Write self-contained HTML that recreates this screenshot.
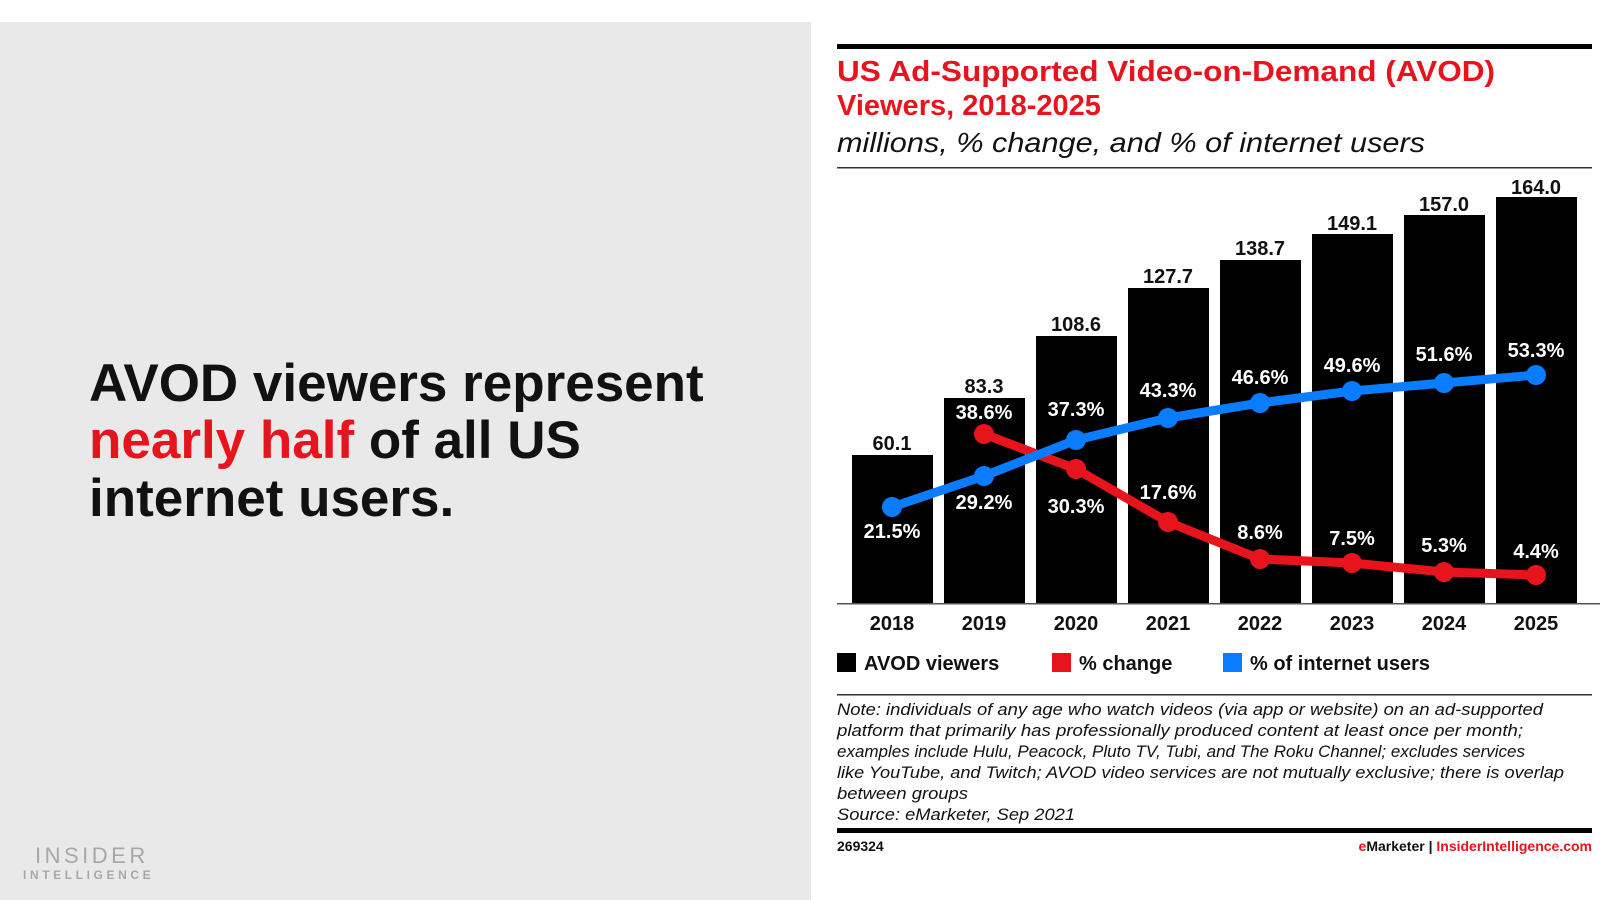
<!DOCTYPE html>
<html><head><meta charset="utf-8"><style>
html,body{margin:0;padding:0;background:#fff;}
svg{display:block;font-family:"Liberation Sans",Arial,sans-serif;}
</style></head><body>
<svg width="1600" height="900" viewBox="0 0 1600 900" xmlns="http://www.w3.org/2000/svg">
<rect x="0" y="22" width="811" height="878" fill="#e9e9e9"/>
<g font-weight="bold" font-size="53" fill="#111">
<text x="89" y="401">AVOD viewers represent</text>
<text x="89" y="458"><tspan fill="#e8141d">nearly half</tspan> of all US</text>
<text x="89" y="516">internet users.</text>
</g>
<text x="35" y="863" font-size="22" fill="#a8a8a8" letter-spacing="3.5">INSIDER</text>
<text x="23" y="879" font-size="12" font-weight="bold" fill="#a8a8a8" letter-spacing="3.6">INTELLIGENCE</text>

<rect x="837" y="44" width="755" height="5" fill="#000"/>
<g font-weight="bold" font-size="29" fill="#e8141d">
<text x="837" y="81" textLength="658" lengthAdjust="spacingAndGlyphs">US Ad-Supported Video-on-Demand (AVOD)</text>
<text x="837" y="115">Viewers, 2018-2025</text>
</g>
<text x="837" y="152" font-size="28" font-style="italic" fill="#111" textLength="588" lengthAdjust="spacingAndGlyphs">millions, % change, and % of internet users</text>
<rect x="837" y="167" width="755" height="1.5" fill="#333"/>

<g fill="#000">
<rect x="852" y="455" width="81" height="149"/>
<rect x="944" y="398" width="81" height="206"/>
<rect x="1036" y="336" width="81" height="268"/>
<rect x="1128" y="288" width="81" height="316"/>
<rect x="1220" y="260" width="81" height="344"/>
<rect x="1312" y="234" width="81" height="370"/>
<rect x="1404" y="215" width="81" height="389"/>
<rect x="1496" y="197" width="81" height="407"/>
</g>
<rect x="837" y="603" width="763" height="1.5" fill="#555"/>
<g font-weight="bold" font-size="20" fill="#111" text-anchor="middle">
<text x="892" y="450">60.1</text><text x="984" y="393">83.3</text><text x="1076" y="331">108.6</text><text x="1168" y="283">127.7</text>
<text x="1260" y="255">138.7</text><text x="1352" y="230">149.1</text><text x="1444" y="211">157.0</text><text x="1536" y="194">164.0</text>
<text x="892" y="630">2018</text><text x="984" y="630">2019</text><text x="1076" y="630">2020</text><text x="1168" y="630">2021</text>
<text x="1260" y="630">2022</text><text x="1352" y="630">2023</text><text x="1444" y="630">2024</text><text x="1536" y="630">2025</text>
</g>
<polyline points="984,434 1076,469 1168,522 1260,559 1352,563 1444,572 1536,575" fill="none" stroke="#e8141d" stroke-width="9" stroke-linejoin="round"/>
<g fill="#e8141d"><circle cx="984" cy="434" r="10"/><circle cx="1076" cy="469" r="10"/><circle cx="1168" cy="522" r="10"/><circle cx="1260" cy="559" r="10"/><circle cx="1352" cy="563" r="10"/><circle cx="1444" cy="572" r="10"/><circle cx="1536" cy="575" r="10"/></g>
<polyline points="892,507 984,476 1076,440 1168,418 1260,403 1352,391 1444,383 1536,375" fill="none" stroke="#0a7cff" stroke-width="9" stroke-linejoin="round"/>
<g fill="#0a7cff"><circle cx="892" cy="507" r="10"/><circle cx="984" cy="476" r="10"/><circle cx="1076" cy="440" r="10"/><circle cx="1168" cy="418" r="10"/><circle cx="1260" cy="403" r="10"/><circle cx="1352" cy="391" r="10"/><circle cx="1444" cy="383" r="10"/><circle cx="1536" cy="375" r="10"/></g>
<g font-weight="bold" font-size="20" fill="#fff" text-anchor="middle">
<text x="892" y="538">21.5%</text><text x="984" y="509">29.2%</text><text x="984" y="419">38.6%</text>
<text x="1076" y="416">37.3%</text><text x="1076" y="513">30.3%</text>
<text x="1168" y="397">43.3%</text><text x="1168" y="499">17.6%</text>
<text x="1260" y="384">46.6%</text><text x="1260" y="539">8.6%</text>
<text x="1352" y="372">49.6%</text><text x="1352" y="545">7.5%</text>
<text x="1444" y="361">51.6%</text><text x="1444" y="552">5.3%</text>
<text x="1536" y="357">53.3%</text><text x="1536" y="558">4.4%</text>
</g>
<rect x="837" y="653" width="19" height="19" fill="#000"/>
<rect x="1052" y="653" width="19" height="19" fill="#e8141d"/>
<rect x="1223" y="653" width="19" height="19" fill="#0a7cff"/>
<g font-weight="bold" font-size="20" fill="#111">
<text x="864" y="670">AVOD viewers</text><text x="1079" y="670">% change</text><text x="1250" y="670">% of internet users</text>
</g>
<rect x="837" y="694" width="755" height="1.5" fill="#333"/>
<g font-size="17" font-style="italic" fill="#111" lengthAdjust="spacingAndGlyphs">
<text x="837" y="715" textLength="706" lengthAdjust="spacingAndGlyphs">Note: individuals of any age who watch videos (via app or website) on an ad-supported</text>
<text x="837" y="736" textLength="686" lengthAdjust="spacingAndGlyphs">platform that primarily has professionally produced content at least once per month;</text>
<text x="837" y="757" textLength="688" lengthAdjust="spacingAndGlyphs">examples include Hulu, Peacock, Pluto TV, Tubi, and The Roku Channel; excludes services</text>
<text x="837" y="778" textLength="727" lengthAdjust="spacingAndGlyphs">like YouTube, and Twitch; AVOD video services are not mutually exclusive; there is overlap</text>
<text x="837" y="799" textLength="131" lengthAdjust="spacingAndGlyphs">between groups</text>
<text x="837" y="820" textLength="238" lengthAdjust="spacingAndGlyphs">Source: eMarketer, Sep 2021</text>
</g>
<rect x="837" y="828" width="755" height="5" fill="#000"/>
<text x="837" y="851" font-size="14" font-weight="bold" fill="#111">269324</text>
<text x="1592" y="851" font-size="14" font-weight="bold" fill="#111" text-anchor="end"><tspan fill="#e8141d">e</tspan>Marketer  |  <tspan fill="#e8141d">InsiderIntelligence.com</tspan></text>
</svg>
</body></html>
